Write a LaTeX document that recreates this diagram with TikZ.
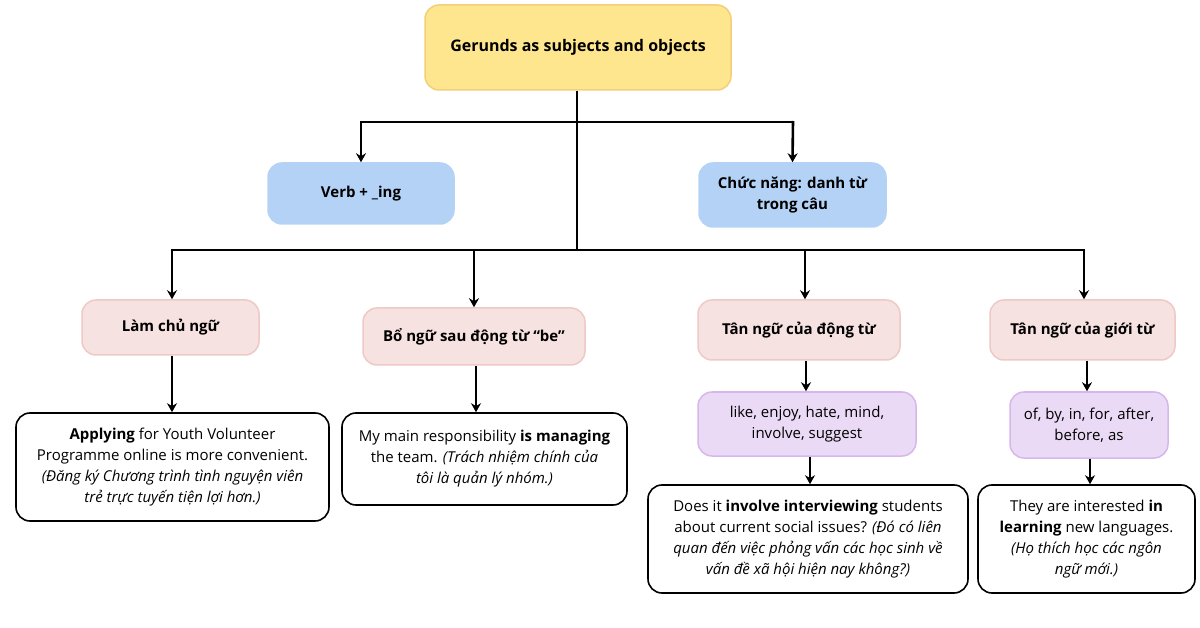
\documentclass[tikz,border=0pt]{standalone}
\usepackage{fontspec}
\setmainfont{Open Sans}
\usetikzlibrary{arrows.meta}
\definecolor{ylw}{HTML}{FDE68E}\definecolor{ylwb}{HTML}{F2CF78}
\definecolor{blu}{HTML}{B4D2F6}
\definecolor{pnk}{HTML}{F6E2E0}\definecolor{pnkb}{HTML}{EEC9C6}
\definecolor{prp}{HTML}{EBDAF5}\definecolor{prpb}{HTML}{D6B7EC}
\begin{document}
\begin{tikzpicture}[x=1pt,y=-1pt,
  box/.style={draw,rounded corners=14pt,line width=1.5pt,align=center,inner sep=0pt,font=\fontsize{15}{21}\selectfont},
  wb/.style={box,draw=black,fill=white,line width=1.6pt},
  ln/.style={line width=2.6pt},
  ar/.style={ln,-{Stealth[length=9pt,width=10pt]}}]
\useasboundingbox (0,0) rectangle (1200,628);
\node[box,fill=ylw,draw=ylwb,minimum width=306pt,minimum height=85pt,font=\bfseries\fontsize{16}{21}\selectfont] (t) at (578,47.5) {Gerunds as subjects and objects};
\node[box,fill=blu,draw=blu,minimum width=186pt,minimum height=61pt,font=\bfseries\fontsize{15}{21}\selectfont] (v) at (361,193.5) {Verb + \_ing};
\node[box,fill=blu,draw=blu,minimum width=187pt,minimum height=64pt,font=\bfseries\fontsize{15}{21}\selectfont] (c) at (792.5,195) {Chức năng: danh từ\\trong câu};
\tikzset{pk/.style={box,fill=pnk,draw=pnkb,font=\bfseries\fontsize{15}{21}\selectfont}}
\node[pk,minimum width=177pt,minimum height=55pt] (p1) at (170.5,327.5) {Làm chủ ngữ};
\node[pk,minimum width=222pt,minimum height=57pt] (p2) at (474,336.5) {Bổ ngữ sau động từ “be”};
\node[pk,minimum width=202pt,minimum height=60pt] (p3) at (799,330) {Tân ngữ của động từ};
\node[pk,minimum width=185pt,minimum height=60pt] (p4) at (1082.5,330) {Tân ngữ của giới từ};
\node[box,fill=prp,draw=prpb,minimum width=218pt,minimum height=64pt] (q1) at (807,424) {like, enjoy, hate, mind,\\involve, suggest};
\node[box,fill=prp,draw=prpb,minimum width=158pt,minimum height=66pt] (q2) at (1089,425) {of, by, in, for, after,\\before, as};
\node[wb,minimum width=313pt,minimum height=108pt] (w1) at (172.5,467) {\textbf{Applying} for Youth Volunteer\\Programme online is more convenient.\\\textit{(Đăng ký Chương trình tình nguyện viên}\\\textit{trẻ trực tuyến tiện lợi hơn.)}};
\node[wb,minimum width=285pt,minimum height=92pt] (w2) at (484.5,459) {My main responsibility \textbf{is managing}\\the team. \textit{(Trách nhiệm chính của}\\\textit{tôi là quản lý nhóm.)}};
\node[wb,minimum width=320pt,minimum height=108pt] (w3) at (808,539) {Does it \textbf{involve interviewing} students\\about current social issues? \textit{(Đó có liên}\\\textit{quan đến việc phỏng vấn các học sinh về}\\\textit{vấn đề xã hội hiện nay không?)}};
\node[wb,minimum width=217pt,minimum height=108pt] (w4) at (1086.5,539) {They are interested \textbf{in}\\\textbf{learning} new languages.\\\textit{(Họ thích học các ngôn}\\\textit{ngữ mới.)}};
\coordinate (j1) at (577,122); \coordinate (j2) at (577,250);
\draw[ln] (t.south -| j1) -- (j2);
\draw[ln] (361,122) -- (793,122);
\draw[ar] (361,121) -- (v.north);
\draw[ar] (793,121) -- (c.north);
\draw[ln] (172,250) -- (1084,250);
\draw[ar] (172,249) -- (p1.north -| 172,0);
\draw[ar] (474,249) -- (p2.north);
\draw[ar] (805,249) -- (p3.north -| 805,0);
\draw[ar] (1084,249) -- (p4.north -| 1084,0);
\draw[ar] (p1.south -| 172,0) -- (w1.north -| 172,0);
\draw[ar] (p2.south -| 476,0) -- (w2.north -| 476,0);
\draw[ar] (p3.south -| 806,0) -- (q1.north -| 806,0);
\draw[ar] (p4.south -| 1087,0) -- (q2.north -| 1087,0);
\draw[ar] (q1.south -| 810,0) -- (w3.north -| 810,0);
\draw[ar] (q2.south -| 1090,0) -- (w4.north -| 1090,0);
\end{tikzpicture}
\end{document}
